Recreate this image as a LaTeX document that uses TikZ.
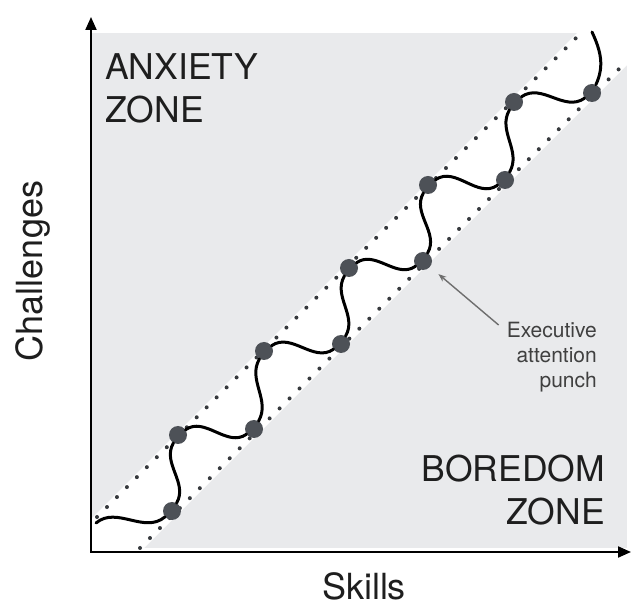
\documentclass[tikz,border=0pt]{standalone}
\usepackage{fontspec}
\setmainfont{TeX Gyre Heros}
\usetikzlibrary{arrows.meta,calc}
\definecolor{zonegray}{HTML}{E9EAEC}
\definecolor{punch}{HTML}{4D5157}
\definecolor{notegray}{HTML}{6E6E6E}
\definecolor{ink}{HTML}{1E1E1E}

\begin{document}
\begin{tikzpicture}[x=1pt, y=1pt,
  zone/.style={font=\fontsize{35.5}{43}\selectfont, text=ink, inner sep=0pt},
  axislabel/.style={font=\fontsize{36}{43}\selectfont, text=ink, inner sep=0pt},
  dot/.style={circle, fill=punch, minimum size=18pt, inner sep=0pt},
  guide/.style={line width=4pt, line cap=round, dash pattern=on 0pt off 14.1pt, draw=punch!70!black},
  wave/.style={line width=3pt, line cap=round, black},
  axis/.style={line width=2pt, {Triangle[length=13pt, width=11pt]}-{Triangle[length=13pt, width=11pt]}},
  pointer/.style={line width=1.4pt, notegray, -{Stealth[length=8pt, width=6pt]}},
]
\useasboundingbox (0,0) rectangle (632,608);
% zones and flow band
\fill[zonegray] (91,60) rectangle (627,575);
\fill[white] (91,60) -- (91,89) -- (577,575) -- (627,575) -- (627,543) -- (144,60) -- cycle;
\draw[guide] (97,91) -- (581,575);
\draw[guide] (140,60) -- (622,542);

% axes
\coordinate (o) at (91,56);
\coordinate (ytop) at (91,591);
\coordinate (xend) at (631,56);
\draw[axis] (ytop) -- (o) -- (xend);

% punches
\node[dot] (p1) at (172,97) {};
\node[dot] (p2) at (178,173) {};
\node[dot] (p3) at (254,179) {};
\node[dot] (p4) at (264,257) {};
\node[dot] (p5) at (341,264) {};
\node[dot] (p6) at (349,340) {};
\node[dot] (p7) at (423,347) {};
\node[dot] (p8) at (428,423) {};
\node[dot] (p9) at (505,428) {};
\node[dot] (p10) at (514,506) {};
\node[dot] (p11) at (592,515) {};
\coordinate (start) at (96,85);
\coordinate (top) at (592,576);

\draw[wave] (start) to[out=40,in=220] (p1)
  to[out=60,in=240] (p2) to[out=35,in=215] (p3)
  to[out=60,in=240] (p4) to[out=35,in=215] (p5)
  to[out=60,in=240] (p6) to[out=35,in=215] (p7)
  to[out=60,in=240] (p8) to[out=35,in=215] (p9)
  to[out=60,in=240] (p10) to[out=35,in=215] (p11)
  to[out=65,in=-65] (top);

% labels
\node[zone, anchor=north west, align=left] (anxiety) at (105,555) {ANXIETY\\ZONE};
\node[zone, anchor=north east, align=right] (boredom) at (605,153) {BOREDOM\\ZONE};
\node[font=\fontsize{21}{25}\selectfont, text=ink!85, inner sep=0pt, anchor=north east, align=right] (punchnote) at (597,286) {Executive\\attention\\punch};
\draw[pointer, shorten >=11pt] ($(punchnote.north west)+(-8,-3)$) -- (p7);
\node[axislabel, anchor=base] (skills) at (364,9) {Skills};
\node[axislabel, rotate=90, anchor=base] (challenges) at (42,337) {Challenges};
\end{tikzpicture}
\end{document}
